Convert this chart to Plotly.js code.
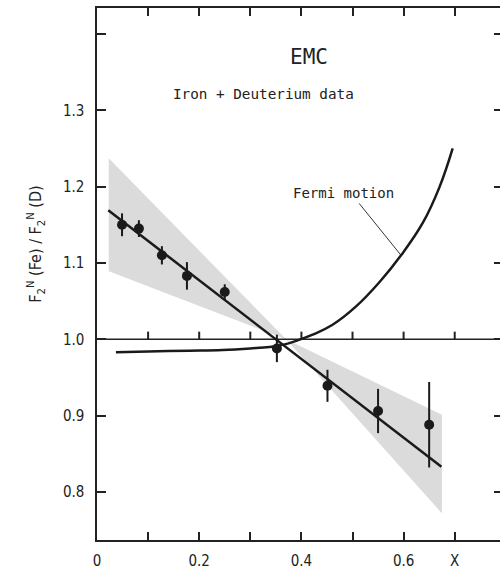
<!DOCTYPE html>
<html>
<head>
<meta charset="utf-8">
<script src="https://cdn.plot.ly/plotly-3.0.1.min.js"></script>
<style>
html,body{margin:0;padding:0;overflow:hidden;background:#fff;}
#chart{width:503px;height:571px;}
</style>
</head>
<body>
<div id="chart"></div>
<script>
// EMC iron / deuterium data points
const xData = [0.049, 0.082, 0.127, 0.176, 0.250, 0.352, 0.451, 0.550, 0.650];
const yData = [1.150, 1.145, 1.110, 1.083, 1.062, 0.988, 0.939, 0.906, 0.888];
const yErr  = [0.015, 0.011, 0.012, 0.018, 0.010, 0.018, 0.021, 0.029, 0.056];

// linear fit line
const fitX = [0.022, 0.674];
const fitY = [1.169, 0.833];

// error band (bow-tie outline)
const bandX = [0.023, 0.370, 0.675, 0.675, 0.370, 0.023, 0.023];
const bandY = [1.237, 1.000, 0.901, 0.772, 1.000, 1.089, 1.237];

// Fermi motion curve
const fermiX = [0.037, 0.100, 0.180, 0.246, 0.300, 0.338, 0.365, 0.390, 0.422, 0.461, 0.507, 0.553, 0.595, 0.638, 0.670, 0.696];
const fermiY = [0.983, 0.984, 0.985, 0.986, 0.988, 0.990, 0.993, 0.998, 1.006, 1.019, 1.043, 1.075, 1.110, 1.153, 1.199, 1.250];

// pointer from "Fermi motion" label to the curve
const pointerX = [0.513, 0.595];
const pointerY = [1.178, 1.110];

// reference line at ratio 1 and its tick marks
const refX = [0, 0.8];
const refY = [1.0, 1.0];
const refTickX = [0.1, 0.2, 0.3, 0.4, 0.5, 0.6, 0.7];
const refTickLen = 0.010;

// axis ticks (labelled); unlabelled ones are minor ticks every 0.1
const xTickVals = [0, 0.2, 0.4, 0.6, 0.7];
const xTickText = ["0", "0.2", "0.4", "0.6", "X"];
const yTickVals = [0.8, 0.9, 1.0, 1.1, 1.2, 1.3];
const yTickText = ["0.8", "0.9", "1.0", "1.1", "1.2", "1.3"];

const xRange = [0, 0.7945];
const yRange = [0.737, 1.434];

const ink = '#1a1a1a';
const tickFont = {family: 'DejaVu Sans Condensed', size: 15, color: '#222'};
const monoFont = {family: 'DejaVu Sans Mono', size: 14, color: '#222'};

// tick segments on the ratio-1 line, separated by gaps
const segX = [], segY = [];
refTickX.forEach(v => { segX.push(v, v, null); segY.push(refY[0], refY[0] + refTickLen, null); });

const traces = [
  {x: bandX, y: bandY, type: 'scatter', mode: 'lines', fill: 'toself',
   fillcolor: 'rgba(190,190,190,0.55)', line: {width: 0}, hoverinfo: 'skip', showlegend: false},
  {x: refX, y: refY, type: 'scatter', mode: 'lines',
   line: {color: '#222', width: 1.6}, showlegend: false},
  {x: segX, y: segY, type: 'scatter', mode: 'lines', connectgaps: false,
   line: {color: '#222', width: 2}, showlegend: false},
  {x: pointerX, y: pointerY, type: 'scatter', mode: 'lines',
   line: {color: '#333', width: 1}, showlegend: false},
  {x: fitX, y: fitY, type: 'scatter', mode: 'lines',
   line: {color: ink, width: 2.5}, showlegend: false},
  {x: fermiX, y: fermiY, type: 'scatter', mode: 'lines',
   line: {color: ink, width: 2.5, shape: 'spline', smoothing: 1.2}, showlegend: false},
  {x: xData, y: yData, type: 'scatter', mode: 'markers',
   marker: {color: ink, size: 10},
   error_y: {type: 'data', array: yErr, visible: true, color: ink, thickness: 2, width: 0},
   showlegend: false}
];

const layout = {
  width: 503, height: 571,
  margin: {l: 97, r: 0, t: 8, b: 31},
  paper_bgcolor: '#fff', plot_bgcolor: '#fff',
  showlegend: false,
  xaxis: {
    range: xRange, tickvals: xTickVals, ticktext: xTickText,
    ticks: 'inside', ticklen: 8, tickwidth: 2, tickcolor: '#222',
    minor: {dtick: 0.1, tick0: 0, ticks: 'inside', ticklen: 8, tickwidth: 2, tickcolor: '#222', showgrid: false},
    showline: true, linecolor: '#222', linewidth: 1.6, mirror: 'allticks',
    showgrid: false, zeroline: false, tickfont: tickFont, ticklabelstandoff: 6
  },
  yaxis: {
    range: yRange, tickvals: yTickVals, ticktext: yTickText,
    ticks: 'inside', ticklen: 9, tickwidth: 2, tickcolor: '#222',
    minor: {dtick: 0.1, tick0: 0.8, ticks: 'inside', ticklen: 9, tickwidth: 2, tickcolor: '#222', showgrid: false},
    showline: true, linecolor: '#222', linewidth: 1.6, mirror: 'allticks',
    showgrid: false, zeroline: false, tickfont: tickFont, ticklabelstandoff: 8
  },
  annotations: [
    {x: -0.150, y: 1.124, xref: 'paper', yref: 'y', textangle: -90, showarrow: false,
     xanchor: 'center', yanchor: 'middle',
     text: 'F<sub>2</sub><sup>N</sup> (Fe) / F<sub>2</sub><sup>N</sup> (D)',
     font: {family: 'DejaVu Sans Condensed', size: 16, color: '#222'}},
    {x: 0.482, y: 1.191, xref: 'x', yref: 'y', text: 'Fermi motion', showarrow: false,
     font: monoFont},
    {x: 0.326, y: 1.321, xref: 'x', yref: 'y', text: 'Iron + Deuterium data', showarrow: false,
     font: {family: 'DejaVu Sans Mono', size: 14.3, color: '#222'}},
    {x: 0.414, y: 1.370, xref: 'x', yref: 'y', text: 'EMC', showarrow: false,
     font: {family: 'DejaVu Sans Mono', size: 21, color: '#222'}}
  ]
};

Plotly.newPlot('chart', traces, layout, {staticPlot: true, displayModeBar: false});
</script>
</body>
</html>
